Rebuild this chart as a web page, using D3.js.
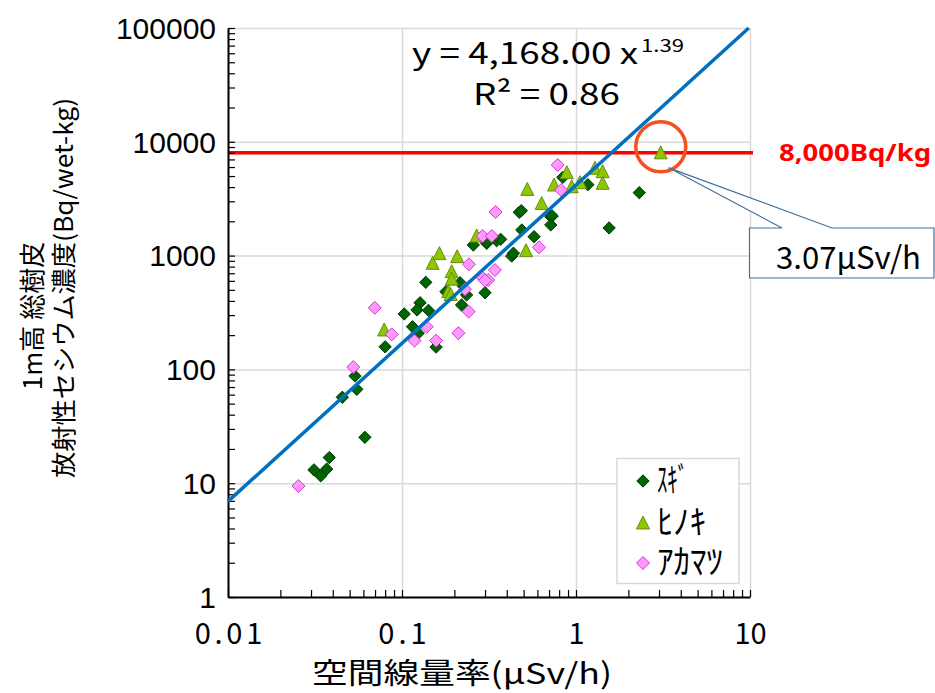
<!DOCTYPE html>
<html><head><meta charset="utf-8">
<script src="https://cdn.jsdelivr.net/npm/d3@7"></script>
<style>body{margin:0;background:#fff}svg{display:block}</style>
</head><body>
<svg id="c" width="935" height="693"></svg>
<script>
// ---- data ----
const xTickValues = [0.01, 0.1, 1, 10];
const xTickLabels = ["0.01", "0.1", "1", "10"];
const yTickValues = [1, 10, 100, 1000, 10000, 100000];
const yTickLabels = ["1", "10", "100", "1000", "10000", "100000"];
const seriesNames = ["ｽｷﾞ", "ﾋﾉｷ", "ｱｶﾏﾂ"];
const sugi = [[0.0312,13.1],[0.0341,11.6],[0.0369,13.3],[0.0382,16.8],[0.0612,25.3],[0.0454,56.9],[0.055,66.8],[0.0537,87.5],[0.080,158],[0.103,307],[0.115,237],[0.124,208],[0.127,385],[0.122,333],[0.142,330],[0.137,582],[0.157,157],[0.179,482],[0.2155,578],[0.22,368],[0.235,451],[0.300,472],[0.257,1239],[0.307,1282],[0.306,1324],[0.35,1352],[0.369,1390],[0.427,991],[0.437,1050],[0.472,2400],[0.485,2480],[0.488,1679],[0.574,1466],[0.716,2199],[0.73,2230],[0.716,1860],[0.839,4873],[1.17,4200],[1.55,1750],[2.31,3572]];
const hinoki = [[0.079,222],[0.150,855],[0.164,1040],[0.2075,979],[0.193,722],[0.193,620],[0.1845,482],[0.1905,455],[0.2686,1486],[0.525,3814],[0.635,2870],[0.516,1104],[0.748,4170],[0.885,5357],[0.945,4027],[1.054,4372],[1.285,5852],[1.423,5460],[1.423,4318],[3.07,8000]];
const akamatsu = [[0.0254,9.45],[0.0525,105],[0.0697,348],[0.0873,203],[0.118,179],[0.1387,237],[0.157,179],[0.211,208],[0.2426,839],[0.2301,506],[0.2415,322],[0.287,653],[0.313,611],[0.30,605],[0.342,747],[0.291,1486],[0.328,1486],[0.345,2416],[0.613,1183],[0.785,6256],[0.821,3767]];
const fitA = 4168.00, fitB = 1.39;
const threshold = 8000;
const thresholdLabel = "8,000Bq/kg";
const highlight = [3.07, 8000];
const highlightLabel = "3.07μSv/h";
const eqMain = "y = 4,168.00 x", eqExp = "1.39", eqR2 = "R² = 0.86";
const xTitle = "空間線量率(μSv/h)";
const yTitle1 = "1m高 総樹皮";
const yTitle2 = "放射性セシウム濃度(Bq/wet-kg)";

// ---- layout ----
const L = 228, R = 750, T = 28, B = 597;
const svg = d3.select("#c");
const x = d3.scaleLog().domain([0.01, 10]).range([L, R]);
const y = d3.scaleLog().domain([1, 100000]).range([B, T]);
const JP = "'Noto Sans CJK JP', sans-serif";

function minors(lo, hi){ const out=[]; for(let d=lo; d<hi; d*=10) for(let k=1;k<10;k++) out.push(d*k); out.push(hi); return out; }

// gridlines
svg.append("g").attr("transform",`translate(0,${B})`)
  .call(d3.axisBottom(x).tickValues(xTickValues).tickSize(-(B-T)).tickFormat(""))
  .call(g=>{g.select(".domain").remove(); g.selectAll("line").attr("stroke","#d9d9d9").attr("stroke-width",1.5);});
svg.append("g").attr("transform",`translate(${L},0)`)
  .call(d3.axisLeft(y).tickValues(yTickValues).tickSize(-(R-L)).tickFormat(""))
  .call(g=>{g.select(".domain").remove(); g.selectAll("line").attr("stroke","#d9d9d9").attr("stroke-width",1.5);});

// threshold line
svg.append("line").attr("x1",L).attr("x2",R+3).attr("y1",y(threshold)).attr("y2",y(threshold))
  .attr("stroke","#ff0000").attr("stroke-width",3.5);

// axes with inner ticks
svg.append("g").attr("transform",`translate(0,${B})`)
  .call(d3.axisBottom(x).tickValues(minors(0.01,10)).tickSizeInner(-7).tickSizeOuter(0).tickFormat(""))
  .call(g=>{g.select(".domain").attr("stroke","#000").attr("stroke-width",2); g.selectAll("line").attr("stroke","#000").attr("stroke-width",1.2);});
svg.append("g").attr("transform",`translate(${L},0)`)
  .call(d3.axisLeft(y).tickValues(minors(1,100000)).tickSizeInner(-7).tickSizeOuter(0).tickFormat(""))
  .call(g=>{g.select(".domain").attr("stroke","#000").attr("stroke-width",2); g.selectAll("line").attr("stroke","#000").attr("stroke-width",1.2);});

// tick labels
svg.append("g").attr("transform",`translate(0,${B})`)
  .call(d3.axisBottom(x).tickValues(xTickValues).tickSize(0).tickPadding(0).tickFormat((d,i)=>xTickLabels[i]))
  .call(g=>{g.select(".domain").remove();
    g.selectAll("text").attr("y",47).attr("dy",0).attr("font-family",JP).attr("font-size",29).attr("fill","#000")
     .each(function(){ const t=this.textContent; if(t.includes(".")){ const w=this.getComputedTextLength(); this.setAttribute("textLength", w*1.2); this.setAttribute("lengthAdjust","spacing"); } });
  });
svg.append("g").attr("transform",`translate(${L},0)`)
  .call(d3.axisLeft(y).tickValues(yTickValues).tickSize(0).tickFormat((d,i)=>yTickLabels[i]))
  .call(g=>{g.select(".domain").remove(); g.selectAll("text").attr("x",-12).attr("dy","0.34em").attr("font-family","'Liberation Sans', Arial, sans-serif").attr("font-size",30).attr("fill","#000");});

// marker shapes
const diamond = {draw(ctx,size){const r=Math.sqrt(size/2);ctx.moveTo(0,-r);ctx.lineTo(r,0);ctx.lineTo(0,r);ctx.lineTo(-r,0);ctx.closePath();}};
const tri = {draw(ctx,size){const w=Math.sqrt(size), h=w*0.92;ctx.moveTo(0,-h/2-1);ctx.lineTo(w/2,h/2);ctx.lineTo(-w/2,h/2);ctx.closePath();}};
const styles = [
  {data:sugi, type:diamond, size:76, fill:"#006400", stroke:"#003800"},
  {data:hinoki, type:tri, size:169, fill:"#8cc800", stroke:"#6a8a10"},
  {data:akamatsu, type:diamond, size:84, fill:"#ff99ff", stroke:"#d633d6"}
];
styles.forEach(s=>{
  svg.append("g").selectAll("path").data(s.data).join("path")
    .attr("transform",d=>`translate(${x(d[0])},${y(d[1])})`)
    .attr("d",d3.symbol().type(s.type).size(s.size))
    .attr("fill",s.fill).attr("stroke",s.stroke).attr("stroke-width",1);
});

// trend line
const xEnd = Math.pow(100000/fitA, 1/fitB);
const fitPts = [0.01, xEnd].map(v=>[v, fitA*Math.pow(v,fitB)]);
svg.append("path").datum(fitPts)
  .attr("d",d3.line().x(d=>x(d[0])).y(d=>y(d[1])))
  .attr("stroke","#0070c0").attr("stroke-width",3.5).attr("fill","none");

// equation
svg.append("text").attr("x",412).attr("y",64).attr("font-family",JP).attr("font-size",30).attr("textLength",226).attr("lengthAdjust","spacingAndGlyphs").text(eqMain);
svg.append("text").attr("x",641).attr("y",52).attr("font-family",JP).attr("font-size",18).attr("textLength",43).attr("lengthAdjust","spacingAndGlyphs").text(eqExp);
svg.append("text").attr("x",473).attr("y",105).attr("font-family",JP).attr("font-size",30).attr("textLength",147).attr("lengthAdjust","spacingAndGlyphs").text(eqR2);

// threshold label
svg.append("text").attr("x",779).attr("y",161).attr("font-family","'Noto Sans', 'Liberation Sans', sans-serif").attr("font-weight","bold")
  .attr("font-size",24).attr("fill","#ff0000").attr("textLength",152).attr("lengthAdjust","spacingAndGlyphs").text(thresholdLabel);

// highlight circle
const hx = x(highlight[0]), hy = y(highlight[1]);
svg.append("circle").attr("cx",hx).attr("cy",hy-6).attr("r",25).attr("fill","none").attr("stroke","#f4511e").attr("stroke-width",3.5);

// callout
const tipX = hx+8, tipY = hy+15;
svg.append("path").attr("d",`M749.5,228 H782 L${tipX},${tipY} L832,228 H934 V278 H749.5 Z`)
  .attr("fill","#fff").attr("stroke","#41719c").attr("stroke-width",1.2);
svg.append("text").attr("x",776).attr("y",269).attr("font-family",JP).attr("font-size",31).attr("textLength",145).attr("lengthAdjust","spacingAndGlyphs").text(highlightLabel);

// legend
svg.append("rect").attr("x",617).attr("y",458.5).attr("width",122).attr("height",125).attr("fill","#fff").attr("stroke","#d9d9d9").attr("stroke-width",1.5);
const legY = [481, 523, 563];
styles.forEach((s,i)=>{
  svg.append("path").attr("transform",`translate(643,${legY[i]})`).attr("d",d3.symbol().type(s.type).size(s.size)).attr("fill",s.fill).attr("stroke",s.stroke);
  svg.append("text").attr("x",657).attr("y",legY[i]+11).attr("font-family",JP).attr("font-size",34)
    .attr("textLength",[31,49,66][i]).attr("lengthAdjust","spacingAndGlyphs").text(seriesNames[i]);
});

// axis titles
svg.append("text").attr("x",462).attr("y",684).attr("text-anchor","middle").attr("font-family",JP).attr("font-size",29)
  .attr("textLength",300).attr("lengthAdjust","spacingAndGlyphs").text(xTitle);
svg.append("text").attr("transform","translate(30,316) rotate(-90)").attr("text-anchor","middle").attr("dominant-baseline","central")
  .attr("font-family",JP).attr("font-size",26).text(yTitle1);
svg.append("text").attr("transform","translate(62,288) rotate(-90)").attr("text-anchor","middle").attr("dominant-baseline","central")
  .attr("font-family",JP).attr("font-size",25).attr("textLength",380).attr("lengthAdjust","spacingAndGlyphs").text(yTitle2);
</script>
</body></html>
